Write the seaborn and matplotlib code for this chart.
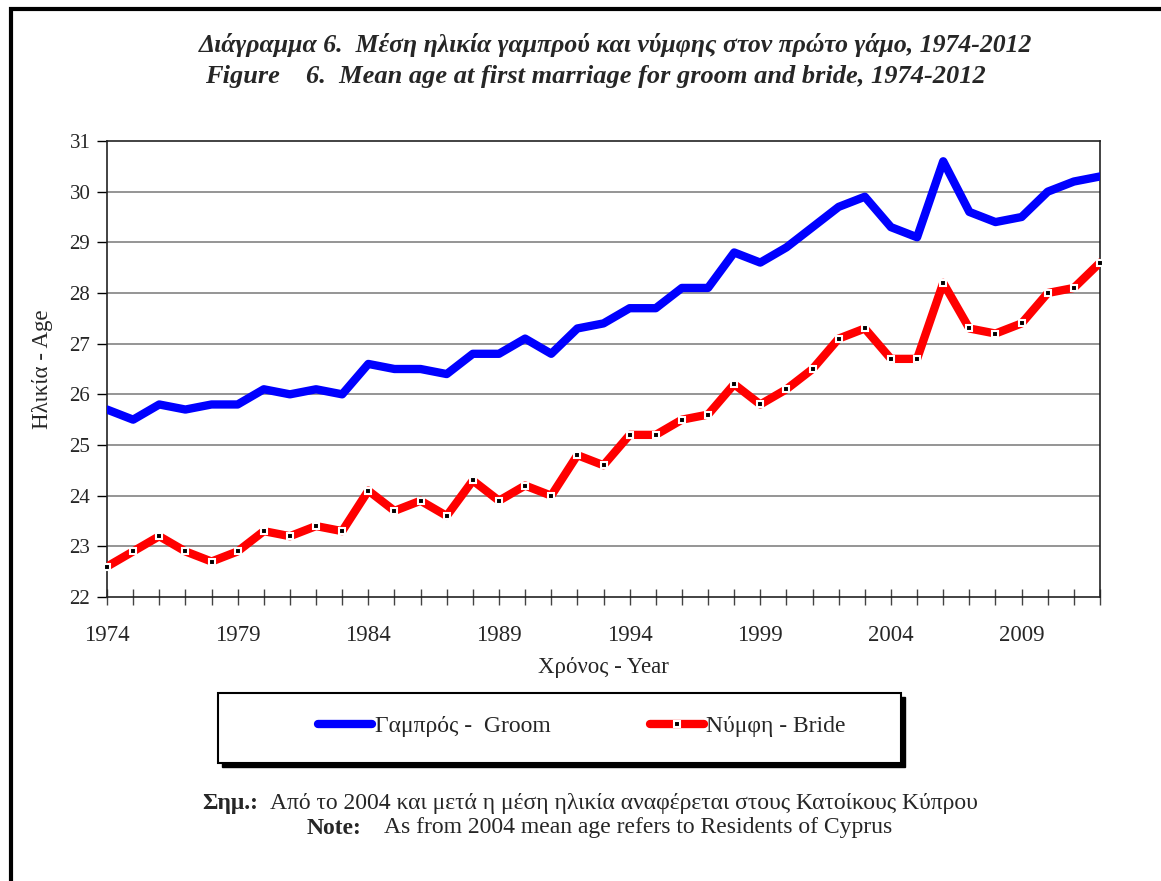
import pandas as pd
import matplotlib.pyplot as plt
import seaborn as sns
from matplotlib.patches import Rectangle
from matplotlib.lines import Line2D

# Data
years = list(range(1974, 2013))
groom = [25.7, 25.5, 25.8, 25.7, 25.8, 25.8, 26.1, 26.0, 26.1, 26.0,
         26.6, 26.5, 26.5, 26.4, 26.8, 26.8, 27.1, 26.8, 27.3, 27.4,
         27.7, 27.7, 28.1, 28.1, 28.8, 28.6, 28.9, 29.3, 29.7, 29.9,
         29.3, 29.1, 30.6, 29.6, 29.4, 29.5, 30.0, 30.2, 30.3]
bride = [22.6, 22.9, 23.2, 22.9, 22.7, 22.9, 23.3, 23.2, 23.4, 23.3,
         24.1, 23.7, 23.9, 23.6, 24.3, 23.9, 24.2, 24.0, 24.8, 24.6,
         25.2, 25.2, 25.5, 25.6, 26.2, 25.8, 26.1, 26.5, 27.1, 27.3,
         26.7, 26.7, 28.2, 27.3, 27.2, 27.4, 28.0, 28.1, 28.6]
year_labels = [1974, 1979, 1984, 1989, 1994, 1999, 2004, 2009]

groom_label = "Γαμπρός -  Groom"
bride_label = "Νύμφη - Bride"

df = pd.DataFrame({"year": years, "groom": groom, "bride": bride})

sns.set_style("white")
plt.rcParams['font.family'] = ['Liberation Serif', 'DejaVu Serif']

W, H = 1161, 881
fig = plt.figure(figsize=(W / 100, H / 100), dpi=100)

def fx(px):
    return px / W

def fy(py):
    return 1 - py / H

# outer frame (only left and top edges visible in the picture)
fig.patches.append(Rectangle((fx(11), fy(1000)), fx(1300), fy(9) - fy(1000),
                             transform=fig.transFigure, fill=False,
                             edgecolor='black', linewidth=3))

ax = fig.add_axes([fx(107), fy(597), fx(1100) - fx(107), fy(141) - fy(597)])

# gridlines
for v in range(23, 31):
    ax.axhline(v, color='#8c8c8c', linewidth=1.3, zorder=1)

sns.lineplot(data=df, x="year", y="groom", ax=ax, color='#0000ff',
             linewidth=6, zorder=3, solid_capstyle='round',
             solid_joinstyle='round')
sns.lineplot(data=df, x="year", y="bride", ax=ax, color='#ff0000',
             linewidth=6, zorder=4, solid_joinstyle='round')
ax.plot(df["year"], df["bride"], linestyle='none', marker='s', markersize=5,
        markerfacecolor='black', markeredgecolor='white', markeredgewidth=1.5,
        zorder=5, clip_on=False)

ax.set_xlim(1974, 2012)
ax.set_ylim(22, 31)
ax.set_xticks(years, minor=True)
ax.set_xticks(year_labels)
ax.set_xticklabels([str(y) for y in year_labels], fontsize=16.5)
ax.set_yticks(range(22, 32))
ax.set_yticklabels([str(v) for v in range(22, 32)], fontsize=15)
ax.tick_params(axis='x', which='both', direction='inout', length=12,
               width=1, color='#444444', pad=14, bottom=True)
ax.tick_params(axis='y', direction='out', length=7, width=1, pad=5,
               left=True, color='black')
for side in ['left', 'bottom', 'top', 'right']:
    ax.spines[side].set_color('#222222')
    ax.spines[side].set_linewidth(1.2)

ax.set_xlabel("Χρόνος - Year", fontsize=16.5, labelpad=8)
ax.set_ylabel("Ηλικία - Age", fontsize=16.5, labelpad=12)

# titles
fig.text(fx(199), fy(45), "Διάγραμμα 6.  Μέση ηλικία γαμπρού και νύμφης στον πρώτο γάμο, 1974-2012",
         fontsize=18.5, fontweight='bold', fontstyle='italic', va='center', ha='left')
fig.text(fx(205), fy(76), "Figure", fontsize=19, fontweight='bold',
         fontstyle='italic', va='center', ha='left')
fig.text(fx(306), fy(76), "6.  Mean age at first marriage for groom and bride, 1974-2012",
         fontsize=19, fontweight='bold', fontstyle='italic', va='center', ha='left')

# legend box with shadow
fig.patches.append(Rectangle((fx(222), fy(767)), fx(905) - fx(222), fy(697) - fy(767),
                             transform=fig.transFigure, facecolor='black',
                             edgecolor='black', zorder=1))
fig.patches.append(Rectangle((fx(218), fy(763)), fx(901) - fx(218), fy(693) - fy(763),
                             transform=fig.transFigure, facecolor='white',
                             edgecolor='black', linewidth=1.5, zorder=2))
handles = [
    Line2D([], [], color='#0000ff', linewidth=6, solid_capstyle='round'),
    Line2D([], [], color='#ff0000', linewidth=6, solid_capstyle='round',
           marker='s', markersize=5, markerfacecolor='black',
           markeredgecolor='white', markeredgewidth=1.5),
]
leg = fig.legend(handles, [groom_label, bride_label], loc='center',
                 bbox_to_anchor=(fx(582), fy(726)), ncol=2, frameon=False,
                 fontsize=17, handlelength=2.3, handletextpad=0.1,
                 columnspacing=4.2, markerscale=1)
leg.set_zorder(3)

# notes
fig.text(fx(202), fy(803), "Σημ.:", fontsize=17, fontweight='bold',
         va='center', ha='left')
fig.text(fx(270), fy(803), "Από το 2004 και μετά η μέση ηλικία αναφέρεται στους Κατοίκους Κύπρου",
         fontsize=17, va='center', ha='left')
fig.text(fx(307), fy(828), "Note:", fontsize=17, fontweight='bold',
         va='center', ha='left')
fig.text(fx(384), fy(828), "As from 2004 mean age refers to Residents of Cyprus",
         fontsize=17, va='center', ha='left')

fig.savefig("out.png", dpi=100)
